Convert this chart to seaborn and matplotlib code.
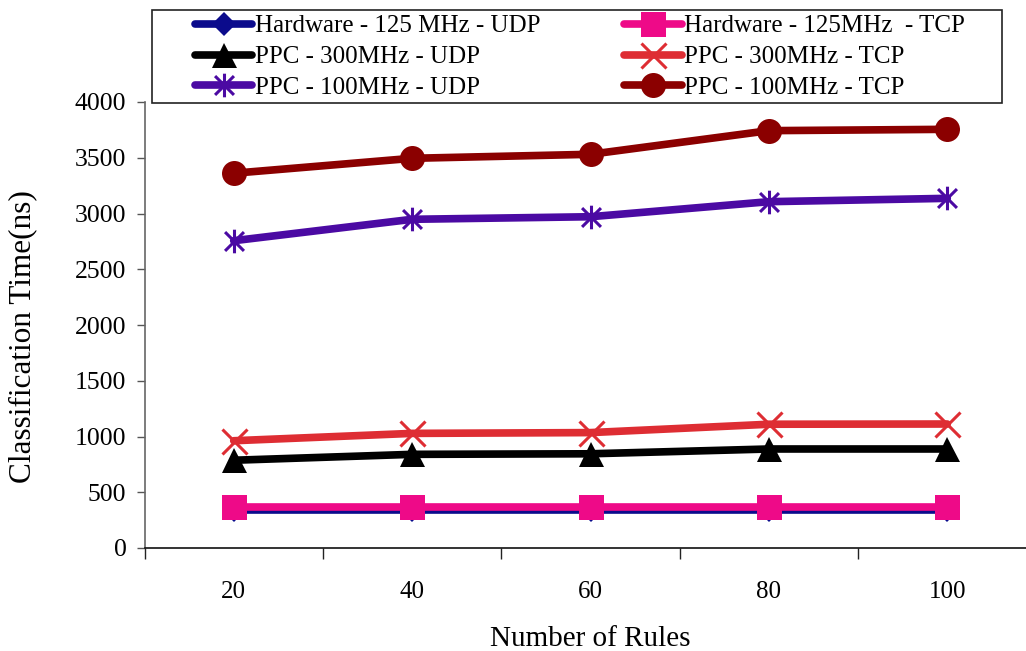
import numpy as np
import pandas as pd
import matplotlib
matplotlib.use("Agg")
import matplotlib.pyplot as plt
import seaborn as sns
from matplotlib.path import Path
from matplotlib.patches import Rectangle

# Number of rules on the x axis
rules = ["20", "40", "60", "80", "100"]

# Classification time (ns) for each configuration
hw_125_udp = [340, 340, 340, 340, 340]
hw_125_tcp = [367, 367, 367, 367, 367]
ppc_300_udp = [787, 840, 845, 888, 888]
ppc_300_tcp = [962, 1028, 1035, 1110, 1112]
ppc_100_udp = [2756, 2948, 2971, 3106, 3136]
ppc_100_tcp = [3361, 3495, 3531, 3743, 3755]

labels = [
    "Hardware - 125 MHz - UDP",
    "Hardware - 125MHz  - TCP",
    "PPC - 300MHz - UDP",
    "PPC - 300MHz - TCP",
    "PPC - 100MHz - UDP",
    "PPC - 100MHz - TCP",
]
series = [hw_125_udp, hw_125_tcp, ppc_300_udp, ppc_300_tcp, ppc_100_udp, ppc_100_tcp]
colors = ["#0b0b8c", "#ee0a88", "#000000", "#de2d33", "#4b0aa3", "#8b0000"]

# Excel-style star: an X crossed by a vertical stroke
star = Path(
    [(-1, -1), (1, 1), (-1, 1), (1, -1), (0, -1.25), (0, 1.25)],
    [Path.MOVETO, Path.LINETO, Path.MOVETO, Path.LINETO, Path.MOVETO, Path.LINETO],
)
markers = ["D", "s", "^", "x", star, "o"]
msizes = [12, 18, 18, 18, 17, 18]

sns.set_style("ticks")
plt.rcParams["font.family"] = ["Liberation Serif", "DejaVu Serif"]
plt.rcParams["text.color"] = "black"
plt.rcParams["axes.labelcolor"] = "black"
plt.rcParams["xtick.color"] = "black"
plt.rcParams["ytick.color"] = "black"

fig = plt.figure(figsize=(10.26, 6.51), dpi=100)
ax = fig.add_axes([144.5 / 1026, 103 / 651, 892 / 1026, 446 / 651])

df = pd.DataFrame({"rules": rules})
handles = {}
for lab, vals, col, mk, ms in zip(labels, series, colors, markers, msizes):
    df[lab] = vals
    unfilled = mk in ("x",) or isinstance(mk, Path)
    kw = dict(markeredgewidth=2.2) if unfilled else dict(markeredgewidth=0)
    sns.lineplot(data=df, x="rules", y=lab, ax=ax, color=col, linewidth=5.5,
                 marker=mk, markersize=ms, markerfacecolor=col,
                 markeredgecolor=col, label=lab, legend=False, **kw)
    handles[lab] = ax.lines[-1]

ax.set_xlim(-0.5, 4.5)
ax.set_ylim(0, 4000)
ax.set_yticks(np.arange(0, 4001, 500))
ax.set_xticks(np.arange(-0.5, 4.6, 1.0), minor=True)
ax.tick_params(axis="x", which="major", length=0, pad=24, labelsize=18,
               labelcolor="black")
ax.tick_params(axis="x", which="minor", length=8, width=1, color="#222222",
               direction="out")
ax.tick_params(axis="y", length=6, width=1, color="#555555", direction="out",
               labelsize=18.5, pad=7, labelcolor="black")

ax.set_xlabel("Number of Rules", fontsize=21, labelpad=16, color="black")
ax.set_ylabel("Classification Time(ns)", fontsize=22.5, color="black")
ax.yaxis.set_label_coords(-0.12, 0.475)

sns.despine(ax=ax)
ax.spines["left"].set_color("#666666")
ax.spines["left"].set_linewidth(1.2)
ax.spines["bottom"].set_color("#111111")
ax.spines["bottom"].set_linewidth(1.2)

# Legend box above the plot area
box = Rectangle((152 / 1026, 1 - 103 / 651), 850 / 1026, 93 / 651,
                transform=fig.transFigure, facecolor="white",
                edgecolor="#222222", linewidth=1.2, zorder=5)
fig.patches.append(box)

order = [labels[0], labels[2], labels[4], labels[1], labels[3], labels[5]]
leg = fig.legend([handles[k] for k in order], order, ncol=2,
                 loc="center", bbox_to_anchor=(580 / 1026, 1 - 57 / 651),
                 frameon=False, fontsize=18, handlelength=2.3,
                 handletextpad=0.1, columnspacing=3.35, labelspacing=0.33,
                 borderpad=0.2)
leg.set_zorder(6)
for t in leg.get_texts():
    t.set_color("black")

fig.savefig("out.png", dpi=100)
